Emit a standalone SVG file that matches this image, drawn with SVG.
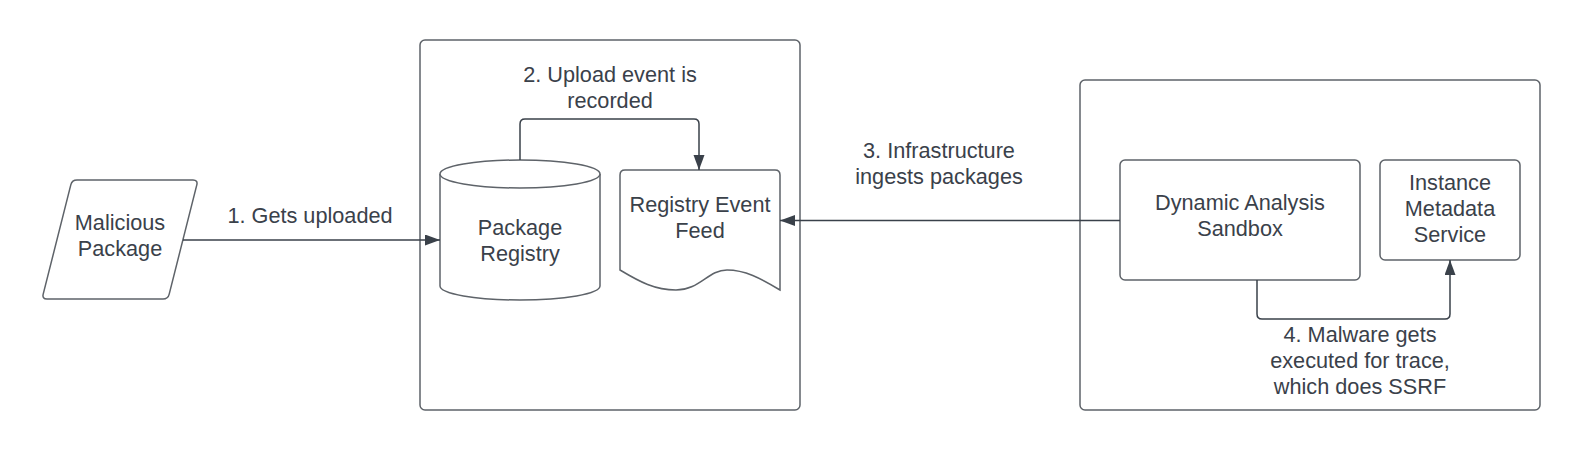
<svg xmlns="http://www.w3.org/2000/svg" width="1580" height="450" viewBox="0 0 1580 450">
  <style>
    .shape { fill: #ffffff; stroke: #5e6369; stroke-width: 1.5; }
    .line { fill: none; stroke: #3a414a; stroke-width: 1.5; }
    text { font-family: "Liberation Sans", Arial, sans-serif; font-size: 21.7px; fill: #3a414a; text-anchor: middle; }
  </style>
  <defs>
    <marker id="arrow" markerUnits="userSpaceOnUse" markerWidth="16" markerHeight="12" refX="15" refY="5.5" orient="auto">
      <path d="M0,0 L15,5.5 L0,11 Z" fill="#3a414a"/>
    </marker>
  </defs>
  <rect width="1580" height="450" fill="#ffffff"/>

  <g id="container-registry">
    <rect class="shape" x="420" y="40" width="380" height="370" rx="5"/>
  </g>
  <g id="container-sandbox">
    <rect class="shape" x="1080" y="80" width="460" height="330" rx="5"/>
  </g>

  <g id="malicious-package">
    <path class="shape" d="M77,180 L193,180 Q198,180 196.8,184.9 L169.2,294.1 Q168,299 163,299 L47,299 Q42,299 43.2,294.1 L70.8,184.9 Q72,180 77,180 Z"/>
    <text x="120" y="230">Malicious</text>
    <text x="120" y="256">Package</text>
  </g>

  <g id="package-registry">
    <path class="shape" d="M440,174 L440,286 A80,14 0 0 0 600,286 L600,174"/>
    <ellipse class="shape" cx="520" cy="174" rx="80" ry="14"/>
    <text x="520" y="235">Package</text>
    <text x="520" y="261">Registry</text>
  </g>

  <g id="registry-event-feed">
    <path class="shape" d="M620,270 L620,175 Q620,170 625,170 L775,170 Q780,170 780,175 L780,290 C760,278 745,270 727,270 C708,270 700,290 676,290 C655,290 640,282 620,270 Z"/>
    <text x="700" y="212">Registry Event</text>
    <text x="700" y="238">Feed</text>
  </g>

  <g id="dynamic-analysis-sandbox">
    <rect class="shape" x="1120" y="160" width="240" height="120" rx="5"/>
    <text x="1240" y="210">Dynamic Analysis</text>
    <text x="1240" y="236">Sandbox</text>
  </g>

  <g id="instance-metadata-service">
    <rect class="shape" x="1380" y="160" width="140" height="100" rx="5"/>
    <text x="1450" y="190">Instance</text>
    <text x="1450" y="216">Metadata</text>
    <text x="1450" y="242">Service</text>
  </g>

  <g id="connectors">
    <path class="line" d="M183,240 L440,240" marker-end="url(#arrow)"/>
    <path class="line" d="M520,160 L520,124 Q520,119 525,119 L694,119 Q699,119 699,124 L699,170" marker-end="url(#arrow)"/>
    <path class="line" d="M1120,220.5 L780,220.5" marker-end="url(#arrow)"/>
    <path class="line" d="M1257,280 L1257,314 Q1257,319 1262,319 L1445,319 Q1450,319 1450,314 L1450,260" marker-end="url(#arrow)"/>
  </g>

  <g id="labels">
    <text x="310" y="223">1. Gets uploaded</text>
    <text x="610" y="82">2. Upload event is</text>
    <text x="610" y="108">recorded</text>
    <text x="939" y="158">3. Infrastructure</text>
    <text x="939" y="184">ingests packages</text>
    <text x="1360" y="342">4. Malware gets</text>
    <text x="1360" y="368">executed for trace,</text>
    <text x="1360" y="394">which does SSRF</text>
  </g>
</svg>
